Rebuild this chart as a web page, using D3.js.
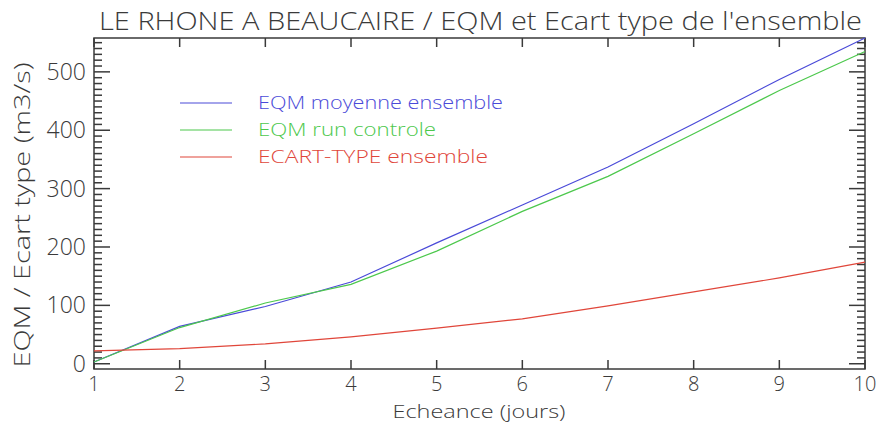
<!DOCTYPE html>
<html lang="fr">
<head>
<meta charset="UTF-8">
<title>LE RHONE A BEAUCAIRE</title>
<script src="https://d3js.org/d3.v7.min.js"></script>
<style>
  body { margin: 0; background: #fff; }
  svg text { font-family: 'Open Sans', 'DejaVu Sans', sans-serif; font-weight: 300; }
</style>
</head>
<body>
<svg width="882" height="425"></svg>
<script>
// echeance (jours)
const days = [1, 2, 3, 4, 5, 6, 7, 8, 9, 10];
const eqmMoyenne = [3, 64, 98, 140, 207, 272, 337, 411, 487, 558];
const eqmControle = [3, 62, 104, 136, 193, 261, 321, 394, 468, 535];
const ecartType = [22, 26, 34, 46, 61, 77, 99, 123, 147, 174];

const seriesNames = ["EQM moyenne ensemble", "EQM run controle", "ECART-TYPE ensemble"];
const seriesColors = ["#4a4ad8", "#4cc84c", "#e0463a"];
const yTicks = [0, 100, 200, 300, 400, 500];
const yMinorTicks = d3.range(0, 560, 10).filter(v => v % 100 !== 0);

const svg = d3.select("svg");
const plotLeft = 94, plotRight = 865, plotTop = 38, plotBottom = 369;
const ink = "#3a3a3a";

const x = d3.scaleLinear().domain([1, 10]).range([plotLeft, plotRight]);
const y = d3.scaleLinear().domain([-9, 558]).range([plotBottom, plotTop]);

// y ticks on both sides, pointing inward
const yTickData = yMinorTicks.map(v => ({ v, len: 8 })).concat(yTicks.map(v => ({ v, len: 16 })));
const tickG = svg.append("g").attr("stroke", ink).attr("stroke-width", 1.5);
tickG.selectAll("line.yl")
  .data(yTickData)
  .join("line").attr("class", "yl")
  .attr("x1", plotLeft).attr("x2", d => plotLeft + d.len)
  .attr("y1", d => y(d.v)).attr("y2", d => y(d.v));
tickG.selectAll("line.yr")
  .data(yTickData)
  .join("line").attr("class", "yr")
  .attr("x1", plotRight).attr("x2", d => plotRight - d.len)
  .attr("y1", d => y(d.v)).attr("y2", d => y(d.v));

// x ticks on top and bottom, pointing inward
tickG.selectAll("line.xb")
  .data(days)
  .join("line").attr("class", "xb")
  .attr("x1", d => x(d)).attr("x2", d => x(d))
  .attr("y1", plotBottom).attr("y2", plotBottom - 9);
tickG.selectAll("line.xt")
  .data(days)
  .join("line").attr("class", "xt")
  .attr("x1", d => x(d)).attr("x2", d => x(d))
  .attr("y1", plotTop).attr("y2", plotTop + 9);

// frame
svg.append("rect")
  .attr("x", plotLeft).attr("y", plotTop)
  .attr("width", plotRight - plotLeft).attr("height", plotBottom - plotTop)
  .attr("fill", "none").attr("stroke", ink).attr("stroke-width", 1.5);

// tick labels
svg.append("g").selectAll("text")
  .data(yTicks)
  .join("text")
  .attr("x", 86).attr("y", d => y(d))
  .attr("dy", "0.35em")
  .attr("text-anchor", "end")
  .style("font-size", "23px").style("fill", ink)
  .text(d => d);

svg.append("g").selectAll("text")
  .data(days)
  .join("text")
  .attr("x", d => x(d)).attr("y", 391)
  .attr("text-anchor", "middle")
  .style("font-size", "20px").style("fill", ink)
  .text(d => d);

// lines
const line = d3.line().x((d, i) => x(days[i])).y(d => y(d));
[eqmMoyenne, eqmControle, ecartType].forEach((vals, k) => {
  svg.append("path")
    .datum(vals)
    .attr("fill", "none")
    .attr("stroke", seriesColors[k])
    .attr("stroke-width", 1.2)
    .attr("d", line);
});

// legend
const legend = svg.append("g").attr("transform", "translate(180,103)");
seriesNames.forEach((name, k) => {
  const row = legend.append("g").attr("transform", `translate(0,${k * 27})`);
  row.append("line").attr("x1", 0).attr("x2", 52).attr("y1", 0).attr("y2", 0)
    .attr("stroke", seriesColors[k]).attr("stroke-width", 1.2);
  row.append("text").attr("x", 78).attr("y", 0).attr("dy", "0.35em")
    .style("font-size", "18px").style("fill", seriesColors[k])
    .attr("textLength", [245, 178, 230][k]).attr("lengthAdjust", "spacingAndGlyphs")
    .text(name);
});

// title
svg.append("text")
  .attr("x", 99).attr("y", 30)
  .attr("textLength", 763).attr("lengthAdjust", "spacingAndGlyphs")
  .style("font-size", "25px").style("fill", ink)
  .text("LE RHONE A BEAUCAIRE / EQM et Ecart type de l'ensemble");

// axis titles
svg.append("text")
  .attr("x", 479).attr("y", 418)
  .attr("text-anchor", "middle")
  .attr("textLength", 173).attr("lengthAdjust", "spacingAndGlyphs")
  .style("font-size", "19px").style("fill", ink)
  .text("Echeance (jours)");

svg.append("text")
  .attr("transform", "translate(30,215) rotate(-90)")
  .attr("text-anchor", "middle")
  .attr("textLength", 305).attr("lengthAdjust", "spacingAndGlyphs")
  .style("font-size", "22px").style("fill", ink)
  .text("EQM / Ecart type (m3/s)");
</script>
</body>
</html>
